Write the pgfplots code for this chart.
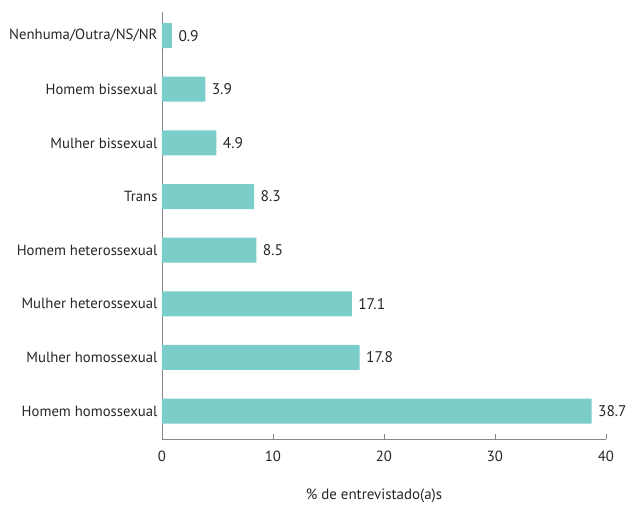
\documentclass[border=0pt]{standalone}
\usepackage{pgfplots}
\pgfplotsset{compat=1.18}
\usepackage{fontspec}
\setmainfont{PT Sans}
\definecolor{barc}{RGB}{122,205,200}
\definecolor{axc}{RGB}{135,135,135}
\begin{document}
\begin{tikzpicture}
\useasboundingbox (-162bp,-66bp) rectangle (470bp,439bp);
\begin{axis}[
  at={(0,0)}, anchor=south west,
  scale only axis,
  width=444bp, height=427bp,
  xbar, bar width=25bp,
  xmin=0, xmax=40,
  ymin=-0.52, ymax=7.44,
  axis x line=bottom, axis y line=left,
  axis line style={axc, line width=0.9pt, -},
  xtick={0,10,20,30,40},
  ytick={0,...,7},
  yticklabels={Homem homossexual,Mulher homossexual,Mulher heterossexual,Homem heterossexual,Trans,Mulher bissexual,Homem bissexual,Nenhuma/Outra/NS/NR},
  y tick style={draw=none},
  x tick style={axc, line width=0.9pt},
  major tick length=5bp,
  tick align=inside,
  /pgf/number format/assume math mode=true,
  tick label style={font=\fontsize{14.8}{16}\selectfont, text=black!85},
  yticklabel style={xshift=-1bp},
  xticklabel style={yshift=-8bp},
  xlabel={\% de entrevistado(a)s},
  xlabel style={font=\fontsize{15}{17}\selectfont, text=black!85, yshift=-21bp, xshift=-10bp},
  nodes near coords,
  nodes near coords style={font=\fontsize{15.5}{17}\selectfont, text=black!85, anchor=west, xshift=3bp},
  point meta=explicit symbolic,
  clip=false,
]
\addplot[fill=barc, draw=none] coordinates {
(38.7,0) [38.7] (17.8,1) [17.8] (17.1,2) [17.1] (8.5,3) [8.5] (8.3,4) [8.3] (4.9,5) [4.9] (3.9,6) [3.9] (0.9,7) [0.9]
};
\end{axis}
\end{tikzpicture}
\end{document}
